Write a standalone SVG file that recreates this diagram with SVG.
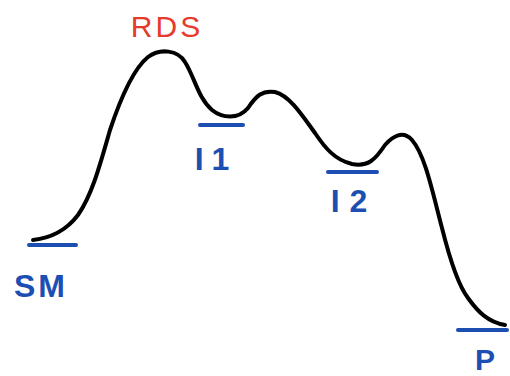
<svg xmlns="http://www.w3.org/2000/svg" width="510" height="376" viewBox="0 0 510 376">
<style>
.lvl{stroke:#1d4fb3;stroke-width:4;stroke-linecap:round;fill:none}
.curve{stroke:#000;stroke-width:4;fill:none;stroke-linecap:round;stroke-linejoin:round}
.lab{font-family:"Liberation Sans",Arial,sans-serif;fill:#1d4fb3;font-weight:bold}
.ts{font-family:"Liberation Sans",Arial,sans-serif;fill:#e63a2a}
</style>
<rect width="510" height="376" fill="#fff"/>
<g id="connectors">
<path class="curve" d="M33,240 C50,238 65,232 78,215 C92,195 100,165 110,130 C120,100 132,70 148,57 C160,48 178,50 185,62 C195,78 198,98 212,110 C222,118 238,120 248,108 C256,96 262,90 275,92 C290,96 302,115 315,133 C325,148 335,160 352,164 C368,167 375,160 385,145 C393,136 403,130 412,140 C425,155 432,190 442,228 C450,260 458,285 468,298 C478,312 488,322 505,325"/>
</g>
<g id="TS"><text class="ts" x="167" y="37" font-size="30" text-anchor="middle" letter-spacing="3">RDS</text></g>
<g id="SM"><line class="lvl" x1="29" y1="245" x2="76" y2="245"/><text class="lab" x="41" y="297" font-size="32" text-anchor="middle" letter-spacing="3">SM</text></g>
<g id="I1"><line class="lvl" x1="200" y1="125" x2="243" y2="125"/><text class="lab" x="216" y="170" font-size="32" text-anchor="middle" letter-spacing="8">I1</text></g>
<g id="I2"><line class="lvl" x1="328" y1="172" x2="377" y2="172"/><text class="lab" x="354" y="212" font-size="32" text-anchor="middle" letter-spacing="10">I2</text></g>
<g id="P"><line class="lvl" x1="458" y1="330" x2="507" y2="330"/><text class="lab" x="485" y="370" font-size="30" text-anchor="middle">P</text></g>
</svg>
